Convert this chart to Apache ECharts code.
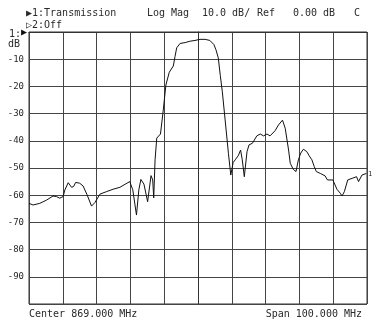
<!DOCTYPE html>
<html>
<head>
<meta charset="utf-8">
<script src="https://cdn.jsdelivr.net/npm/echarts@6/dist/echarts.min.js"></script>
<style>
html,body{margin:0;padding:0;background:#fff;}
#c{width:381px;height:324px;}
</style>
</head>
<body>
<div id="c"></div>
<script>
// Frequency (MHz) and transmission (dB)
const centerMHz = 869;
const spanMHz = 100;
const freqMHz = [
  819.0, 820.2, 822.2, 824.2, 826.1, 827.1, 828.1, 829.1, 829.6, 830.6,
  831.6, 832.2, 832.8, 834.0, 835.0, 836.2, 837.5, 838.5, 840.0, 841.9,
  843.9, 845.9, 847.4, 848.8, 849.7, 850.8, 851.5, 852.1, 853.0, 854.1,
  855.1, 855.6, 855.9, 856.3, 856.8, 857.3, 857.9, 858.7, 859.5, 860.5,
  861.7, 862.2, 862.7, 863.7, 865.2, 866.6, 868.1, 869.6, 871.1, 872.5,
  873.7, 874.3, 875.0, 875.6, 876.2, 877.0, 878.0, 878.7, 879.4, 880.0,
  880.9, 881.6, 882.1, 882.7, 883.5, 884.1, 885.1, 886.4, 887.4, 888.4,
  889.4, 890.3, 891.8, 892.8, 894.0, 894.8, 895.8, 896.3, 897.2, 898.0,
  898.7, 899.4, 900.2, 901.2, 901.9, 902.7, 903.4, 904.0, 905.2, 906.6,
  907.3, 908.9, 910.1, 911.1, 911.6, 912.3, 913.3, 914.6, 915.9, 916.5,
  917.5, 918.8
];
const transmissionDb = [
  -63.0, -63.6, -63.0, -61.8, -60.3, -60.5, -61.1, -60.5, -58.1, -55.4,
  -57.1, -56.8, -55.3, -55.6, -56.6, -59.9, -64.0, -62.7, -59.6, -58.7,
  -57.8, -57.1, -56.0, -55.0, -58.0, -67.3, -58.0, -54.2, -55.9, -62.4,
  -52.8, -54.4, -61.0, -47.0, -39.0, -38.5, -37.5, -29.0, -19.5, -14.8,
  -12.5, -9.0, -5.8, -4.2, -3.9, -3.4, -3.1, -2.7, -2.7, -3.1,
  -4.6, -6.5, -9.5, -16.0, -22.0, -32.0, -44.6, -52.6, -48.0, -47.0,
  -45.5, -43.4, -47.0, -53.2, -44.0, -41.5, -40.9, -38.2, -37.5, -38.2,
  -37.5, -38.2, -36.3, -34.2, -32.4, -35.4, -43.4, -48.3, -50.5, -51.3,
  -47.0, -44.5, -43.1, -44.0, -45.5, -47.0, -49.5, -51.3, -52.0, -52.9,
  -54.4, -54.4, -57.8, -59.3, -60.3, -58.7, -54.4, -53.8, -53.2, -55.0,
  -52.6, -52.0
];
const yTicks = [-90, -80, -70, -60, -50, -40, -30, -20, -10];

const FONT = '"DejaVu Sans Mono", "Liberation Mono", monospace';
const TXT = '#2a2a2a';
const chart = echarts.init(document.getElementById('c'), null, {renderer: 'canvas'});

const seriesData = freqMHz.map((f, i) => [f - centerMHz, transmissionDb[i]]);

function txt(x, y, s, align) {
  return {type: 'text', x: x, y: y, style: {text: s, font: '10px ' + FONT, fill: TXT,
    textAlign: align || 'left', textVerticalAlign: 'middle'}};
}

chart.setOption({
  animation: false,
  backgroundColor: '#fff',
  grid: {left: 29, right: 14, top: 32, bottom: 20, show: true, borderColor: '#333', borderWidth: 1},
  xAxis: {
    type: 'value', min: -spanMHz / 2, max: spanMHz / 2, interval: 10,
    axisLine: {show: true, lineStyle: {color: '#333', width: 1}},
    axisTick: {show: false}, axisLabel: {show: false},
    splitLine: {show: true, lineStyle: {color: '#444', width: 1}}
  },
  yAxis: {
    type: 'value', min: -100, max: 0, interval: 10,
    axisLine: {show: true, lineStyle: {color: '#333', width: 1}},
    axisTick: {show: false},
    axisLabel: {
      margin: 5, fontFamily: FONT, fontSize: 9, color: TXT,
      formatter: v => yTicks.indexOf(v) >= 0 ? String(v) : ''
    },
    splitLine: {show: true, lineStyle: {color: '#444', width: 1}}
  },
  series: [{
    type: 'line', data: seriesData, showSymbol: false, smooth: false,
    lineStyle: {color: '#111', width: 1}
  }],
  graphic: [
    txt(26, 13, '\u25B61:Transmission'),
    txt(147, 13, 'Log Mag'),
    txt(202, 13, '10.0 dB/'),
    txt(257, 13, 'Ref'),
    txt(293, 13, '0.00 dB'),
    txt(354, 13, 'C'),
    txt(26, 25, '\u25B72:Off'),
    txt(9, 34, '1:'),
    {type: 'text', x: 21, y: 32, style: {text: '\u25B6', font: '10px ' + FONT, fill: '#111', textVerticalAlign: 'middle'}},
    txt(8, 44, 'dB'),
    {type: 'text', x: 368, y: 174, style: {text: '1', font: '7px ' + FONT, fill: TXT, textVerticalAlign: 'middle'}},
    txt(29, 314, 'Center 869.000 MHz'),
    txt(362, 314, 'Span 100.000 MHz', 'right')
  ]
});
</script>
</body>
</html>
